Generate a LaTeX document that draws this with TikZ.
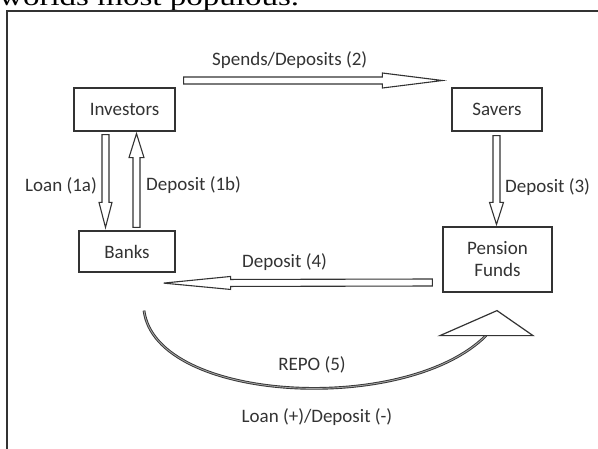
\documentclass[tikz,border=0pt]{standalone}
\usepackage{fontspec}
\setmainfont{Carlito}
\newfontfamily\serifhead{Liberation Serif}
\usetikzlibrary{calc}
\definecolor{ink}{HTML}{333333}
\tikzset{
  box/.style={draw=ink, line width=1.2pt, inner sep=0pt, align=center, text=ink,
    font=\fontsize{19}{23}\selectfont},
  lbl/.style={inner sep=0pt, text=ink, font=\fontsize{19}{23}\selectfont},
  blockline/.style={draw=ink, line width=1.1pt, fill=white, line join=miter},
}
\newcommand{\blockarr}[5]{%
  \coordinate (ba-p) at ($(#2)!#5!(#1)$);
  \draw[blockline] ($(#1)!#3!90:(#2)$) -- ($(ba-p)!#3!90:(#2)$) -- ($(ba-p)!#4!90:(#2)$)
    -- (#2) -- ($(ba-p)!#4!-90:(#2)$) -- ($(ba-p)!#3!-90:(#2)$) -- ($(#1)!#3!-90:(#2)$) -- cycle;}
\begin{document}
\begin{tikzpicture}[x=1pt, y=-1pt]
\useasboundingbox (0,0) rectangle (598,448);
\clip (0,0) rectangle (598,448);
\fill[white] (0,0) rectangle (598,448);
% heading fragment
\node[anchor=base west, inner sep=0pt, font=\serifhead\fontsize{26}{28}\selectfont] (cap) at (-1,5) {\scalebox{1.27}[1]{worlds most populous.}};
% outer frame
\draw[ink, line width=2pt] (7,470) -- (7,11) -- (620,11);
% boxes
\node[box, minimum width=101pt, minimum height=43pt] (inv) at (124.5,109.5) {Investors};
\node[box, minimum width=96pt, minimum height=41pt] (banks) at (127,251.5) {Banks};
\node[box, minimum width=90pt, minimum height=43pt] (savers) at (497,109.5) {Savers};
\node[box, minimum width=109pt, minimum height=65pt] (pension) at (497.5,259.5) {Pension\\[-1pt]Funds};
% connector end points
\coordinate (l1s) at ($(inv.south)+(-19,3)$);
\coordinate (l1e) at ($(banks.north)+(-21.5,-3)$);
\coordinate (d1s) at ($(banks.north)+(9.5,-3)$);
\coordinate (d1e) at ($(inv.south)+(12,2)$);
\coordinate (s2s) at ($(inv.east)+(8,-29)$);
\coordinate (s2e) at ($(savers.west)+(-9,-29)$);
\coordinate (d3s) at ($(savers.south)+(-0.5,4)$);
\coordinate (d3e) at ($(pension.north)+(-1,-2)$);
\coordinate (d4s) at ($(pension.west)+(-10,23)$);
\coordinate (d4e) at ($(banks.south east)+(-12,10.5)$);
\coordinate (r5s) at ($(banks.south)+(17,38)$);
\coordinate (tapex) at ($(pension.south)+(-0.5,18)$);
\coordinate (tl) at ($(pension.south)+(-57.5,43)$);
\coordinate (tr) at ($(pension.south)+(35.5,43)$);
\coordinate (r5e) at ($(pension.south)+(-11.5,43)$);
% block arrows
\blockarr{l1s}{l1e}{3.5pt}{6.5pt}{25pt}
\blockarr{d1s}{d1e}{3.5pt}{7.5pt}{24pt}
\blockarr{s2s}{s2e}{3.5pt}{7.5pt}{60pt}
\blockarr{d3s}{d3e}{3.5pt}{7pt}{22pt}
\blockarr{d4s}{d4e}{3.5pt}{6.5pt}{67pt}
% REPO curve
\draw[ink, line width=0.9pt, double=ink!45, double distance=0.9pt]
  (r5s) .. controls ($(r5s)+(12,92)$) and ($(r5e)+(-80,80)$) .. (r5e);
\draw[blockline, line width=1.2pt] (tl) -- (tapex) -- (tr) -- cycle;
% labels
\node[lbl, anchor=east] (tl1a) at ($(l1s)!0.55!(l1e)+(-8.5,0)$) {Loan (1a)};
\node[lbl, anchor=west] (tl1b) at ($(d1s)!0.45!(d1e)+(9.5,0)$) {Deposit (1b)};
\node[lbl] (tl2) at ($(s2s)!0.41!(s2e)+(0,-20.5)$) {Spends/Deposits (2)};
\node[lbl, anchor=west] (tl3) at ($(d3s)!0.58!(d3e)+(8.5,0)$) {Deposit (3)};
\node[lbl] (tl4) at ($(d4s)!0.55!(d4e)+(0,-20.5)$) {Deposit (4)};
\node[lbl] (tl5) at (312,365) {REPO (5)};
\node[lbl] (tl6) at (317,417) {Loan (+)/Deposit (-)};
\end{tikzpicture}
\end{document}
